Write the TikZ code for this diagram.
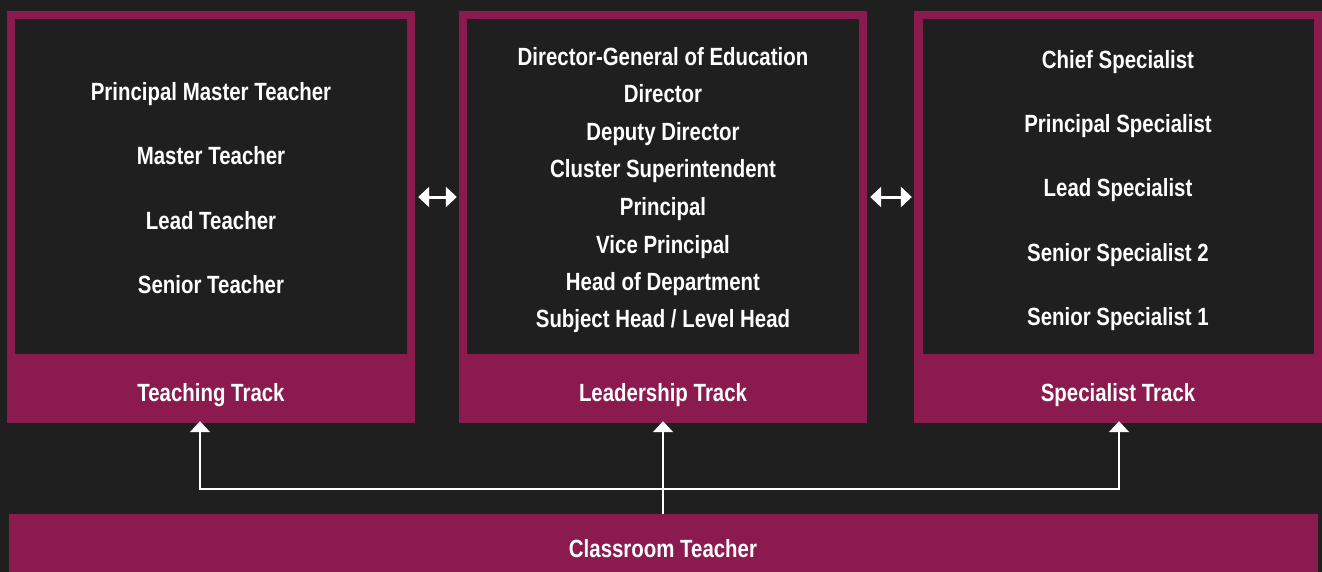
\documentclass[tikz,border=0pt]{standalone}
\usepackage{fontspec}
\setmainfont{Liberation Sans}[FakeStretch=0.82]
\usetikzlibrary{arrows.meta}
\definecolor{bg}{HTML}{1F1F1F}
\definecolor{maroon}{HTML}{8B1A4E}
\tikzset{
  outerbox/.style={draw=none, fill=maroon, inner sep=0, minimum width=408bp, minimum height=412bp},
  innerbox/.style={draw=none, fill=bg, inner sep=0, minimum height=335bp},
  lbl/.style={text=white, font=\fontsize{25}{30}\selectfont\bfseries, inner sep=0, anchor=base},
  arr/.style={draw=white, line width=2bp, -{Triangle[width=20bp,length=11bp]}},
  dbl/.style={draw=white, line width=3bp, {Triangle[width=20bp,length=11bp]}-{Triangle[width=20bp,length=11bp]}, shorten <=0bp, shorten >=0bp}
}
\begin{document}
\begin{tikzpicture}[x=1bp, y=-1bp]
\fill[bg] (0,0) rectangle (1322,572);
\useasboundingbox (0,0) rectangle (1322,572);
% track boxes
\node[outerbox] (teach) at (211,217) {};
\node[innerbox, minimum width=392bp] (teachin) at (211,186.5) {};
\node[outerbox] (lead) at (663,217) {};
\node[innerbox, minimum width=392bp] (leadin) at (663,186.5) {};
\node[outerbox] (spec) at (1118,217) {};
\node[innerbox, minimum width=391bp] (specin) at (1118.5,186.5) {};
\node[draw=none, fill=maroon, inner sep=0, minimum width=1309bp, minimum height=58bp] (ct) at (663.5,543) {};
% teaching
\node[lbl] (t1) at (211,101) {Principal Master Teacher};
\node[lbl] (t2) at (211,165) {Master Teacher};
\node[lbl] (t3) at (211,229) {Lead Teacher};
\node[lbl] (t4) at (211,293) {Senior Teacher};
\node[lbl] (tl) at (211,401) {Teaching Track};
% leadership
\node[lbl] (l1) at (663,66) {Director-General of Education};
\node[lbl] (l2) at (663,103) {Director};
\node[lbl] (l3) at (663,141) {Deputy Director};
\node[lbl] (l4) at (663,178) {Cluster Superintendent};
\node[lbl] (l5) at (663,215) {Principal};
\node[lbl] (l6) at (663,253) {Vice Principal};
\node[lbl] (l7) at (663,290) {Head of Department};
\node[lbl] (l8) at (663,327) {Subject Head / Level Head};
\node[lbl] (ll) at (663,401) {Leadership Track};
% specialist
\node[lbl] (s1) at (1118,69) {Chief Specialist};
\node[lbl] (s2) at (1118,133) {Principal Specialist};
\node[lbl] (s3) at (1118,197) {Lead Specialist};
\node[lbl] (s4) at (1118,261) {Senior Specialist 2};
\node[lbl] (s5) at (1118,325) {Senior Specialist 1};
\node[lbl] (sl) at (1118,401) {Specialist Track};
% bottom
\node[lbl] (ctl) at (663,557) {Classroom Teacher};
% double arrows
\draw[dbl] ([xshift=3bp]teach.east |- 0,197) coordinate (d1a) -- ([xshift=-2bp]lead.west |- 0,197) coordinate (d1b);
\draw[dbl] ([xshift=3bp]lead.east |- 0,197) coordinate (d2a) -- ([xshift=-2bp]spec.west |- 0,197) coordinate (d2b);
% tree arrows
\coordinate (j) at (663,489);
\draw[arr] (ct.north -| j) -- ([yshift=2bp]lead.south -| j);
\draw[arr, line cap=rect] (j) -| ([yshift=2bp]lead.south -| 200,0);
\draw[arr, line cap=rect] (j) -| ([yshift=2bp]lead.south -| 1119,0);
\end{tikzpicture}
\end{document}
